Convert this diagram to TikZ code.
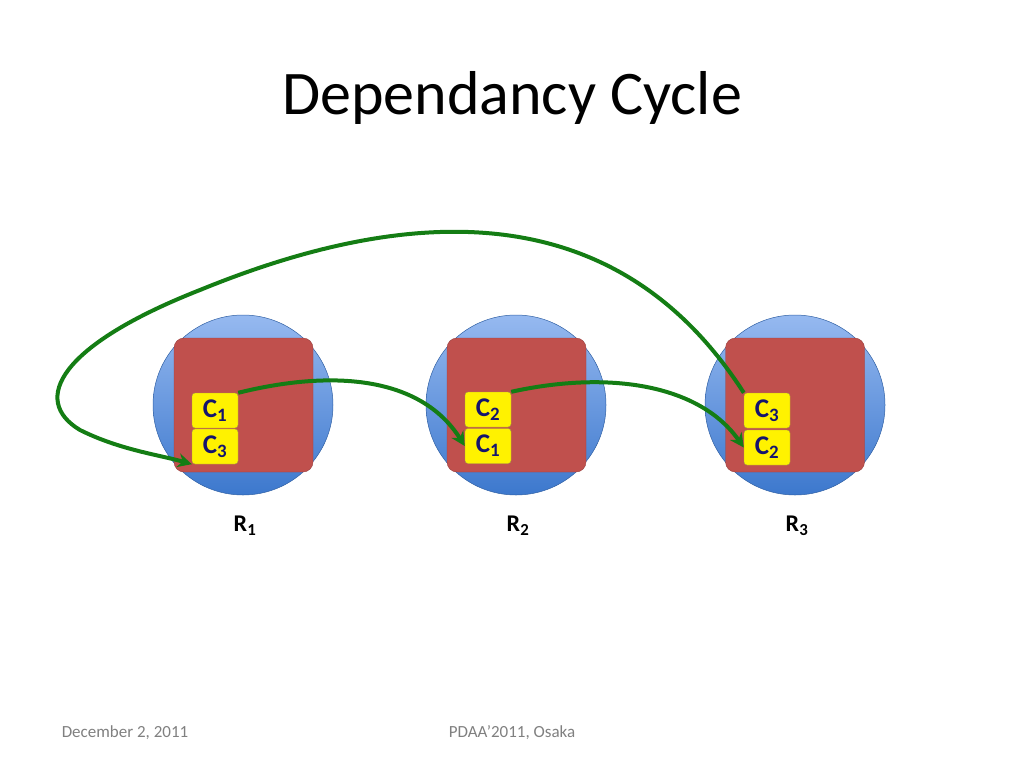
\documentclass[tikz,border=0pt]{standalone}
\usepackage{fontspec}
\setmainfont{Carlito}
\usetikzlibrary{arrows.meta}
\definecolor{navy}{RGB}{20,20,110}
\definecolor{redbox}{RGB}{192,80,77}
\definecolor{ringtop}{RGB}{150,185,240}
\definecolor{ringbot}{RGB}{60,120,205}
\definecolor{grn}{RGB}{20,125,20}
\tikzset{
 ring/.style={circle,draw=ringbot!80!black,line width=0.5pt,top color=ringtop,bottom color=ringbot,minimum size=180pt,inner sep=0pt},
 core/.style={rounded corners=10pt,fill=redbox,draw=redbox!80!black,line width=0.4pt,minimum width=139pt,minimum height=134pt,inner sep=0pt},
 cbox/.style={rounded corners=3pt,fill=yellow,draw=yellow!60!black,line width=0.4pt,minimum width=46pt,minimum height=35pt,inner sep=0pt,text=navy,font=\fontsize{27}{29}\selectfont\bfseries},
 lab/.style={text=black,font=\fontsize{24}{26}\selectfont\bfseries},
 flow/.style={draw=grn,line width=4pt,-{Stealth[length=14pt,width=14pt]}}
}
\begin{document}
\begin{tikzpicture}[x=1pt,y=-1pt]
\useasboundingbox (0,0) rectangle (1024,768);
\node[font=\fontsize{62}{68}\selectfont] (title) at (512,98) {Dependancy Cycle};
\node[ring] (r1) at (243,405) {};
\node[ring] (r2) at (516,405) {};
\node[ring] (r3) at (795,405) {};
\node[core] (k1) at (243.5,405) {};
\node[core] (k2) at (516.5,405) {};
\node[core] (k3) at (795,405) {};
\node[cbox] (a1) at (215,410.5) {C\textsubscript{1}};
\node[cbox] (a3) at (215,446.5) {C\textsubscript{3}};
\node[cbox] (b2) at (488,409.5) {C\textsubscript{2}};
\node[cbox] (b1) at (488,446) {C\textsubscript{1}};
\node[cbox] (c3) at (767,410.5) {C\textsubscript{3}};
\node[cbox] (c2) at (767,447.5) {C\textsubscript{2}};
\node[lab] (l1) at (245,526) {R\textsubscript{1}};
\node[lab] (l2) at (518,526) {R\textsubscript{2}};
\node[lab] (l3) at (797,526) {R\textsubscript{3}};
\node[text=gray,font=\fontsize{17}{19}\selectfont] (d) at (125,733) {December 2, 2011};
\node[text=gray,font=\fontsize{17}{19}\selectfont] (p) at (512,733) {PDAA'2011, Osaka};
\draw[flow] (a1.north east) .. controls (330,370) and (420,375) .. (b1.west);
\draw[flow] (b2.north east) .. controls (610,370) and (700,385) .. (c2.west);
\draw[flow] (c3.north west) .. controls (620,200) and (420,200) .. (200,290) .. controls (60,345) and (30,400) .. (80,430) .. controls (120,450) and (160,455) .. (a3.south west);
\end{tikzpicture}
\end{document}
